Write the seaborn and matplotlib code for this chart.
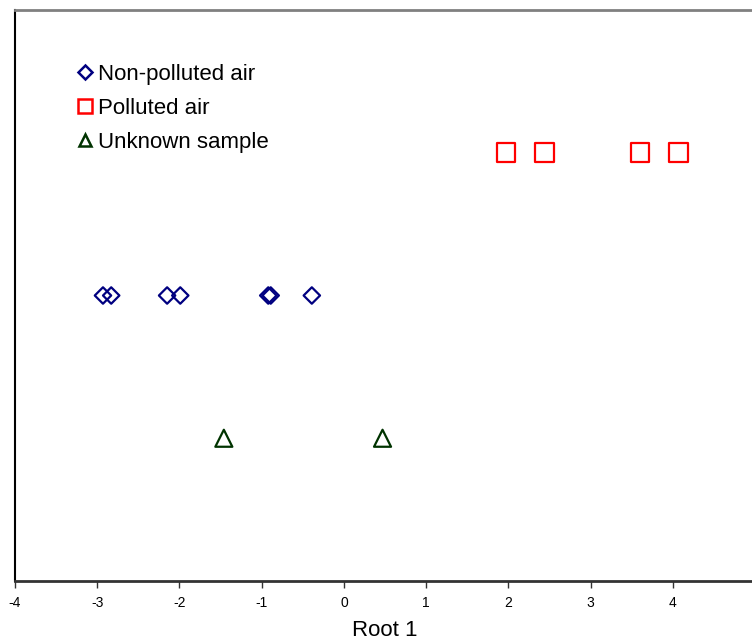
import matplotlib
matplotlib.use("Agg")
import matplotlib.pyplot as plt
import seaborn as sns
import pandas as pd
from matplotlib.lines import Line2D

# root 1 scores
clean_x = [-2.93, -2.83, -2.15, -1.99, -0.92, -0.89, -0.39]
polluted_x = [1.97, 2.44, 3.60, 4.07]
unknown_x = [-1.46, 0.47]
groups = ["Non-polluted air", "Polluted air", "Unknown sample"]
levels = [2, 3, 1]
x_ticks = [-4, -3, -2, -1, 0, 1, 2, 3, 4, 5]

sns.set_style("white")
plt.rcParams['font.family'] = ['Liberation Sans', 'DejaVu Sans']
plt.rcParams['text.color'] = 'black'
plt.rcParams['xtick.color'] = 'black'
plt.rcParams['axes.labelcolor'] = 'black'

df = pd.concat([
    pd.DataFrame({'root1': clean_x, 'y': levels[0], 'group': groups[0]}),
    pd.DataFrame({'root1': polluted_x, 'y': levels[1], 'group': groups[1]}),
    pd.DataFrame({'root1': unknown_x, 'y': levels[2], 'group': groups[2]}),
])

colors = ['#000080', '#FF0000', '#003300']
markers = ['D', 's', '^']
sizes = [70, 180, 150]

fig = plt.figure(figsize=(7.52, 6.44), dpi=100)
ax = fig.add_axes([15 / 752, 63 / 644, 740 / 752, 571 / 644])

for g, c, m, s in zip(groups, colors, markers, sizes):
    sns.scatterplot(data=df[df['group'] == g], x='root1', y='y', marker=m, s=s,
                    color=c, linewidth=1.6, ax=ax, legend=False)
    coll = ax.collections[-1]
    coll.set_facecolor('none')
    coll.set_edgecolor(c)

ax.set_xlim(-4, 5)
ax.set_ylim(0, 4)
ax.set_xticks(x_ticks)
ax.set_xticklabels([str(t) for t in x_ticks], fontsize=10)
ax.set_yticks([])
ax.set_ylabel('')
ax.set_xlabel('Root 1', fontsize=16, labelpad=7)
ax.tick_params(axis='x', direction='out', length=5, width=1, color='#333333',
               bottom=True, pad=6)

ax.spines['right'].set_visible(False)
ax.spines['left'].set_color('black')
ax.spines['left'].set_linewidth(1.5)
ax.spines['bottom'].set_color('#333333')
ax.spines['bottom'].set_linewidth(2)
ax.spines['top'].set_color('#808080')
ax.spines['top'].set_linewidth(2)

handles = [
    Line2D([], [], linestyle='none', marker='D', markersize=7, markerfacecolor='none',
           markeredgecolor=colors[0], markeredgewidth=1.8),
    Line2D([], [], linestyle='none', marker='s', markersize=10, markerfacecolor='none',
           markeredgecolor=colors[1], markeredgewidth=1.8),
    Line2D([], [], linestyle='none', marker='^', markersize=9, markerfacecolor='none',
           markeredgecolor=colors[2], markeredgewidth=1.8),
]
fig.legend(handles, groups, loc='upper left', bbox_to_anchor=(78 / 752, 1 - 64 / 644),
           frameon=False, fontsize=16, handlelength=0.6, handletextpad=0.3,
           labelspacing=0.58, borderpad=0, borderaxespad=0)

fig.savefig('out.png', dpi=100)
